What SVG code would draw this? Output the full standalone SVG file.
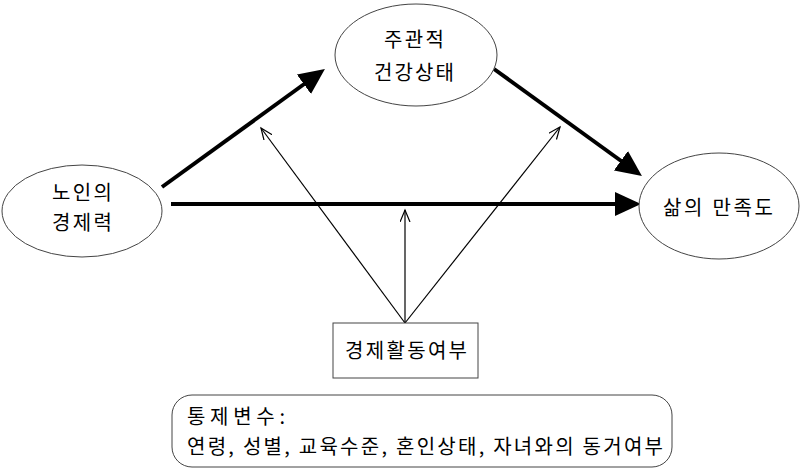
<svg xmlns="http://www.w3.org/2000/svg" width="800" height="471" viewBox="0 0 800 471">
<style>
.node{fill:#fff;stroke:#444;stroke-width:1}
.t{font-family:"Noto Sans CJK KR","Noto Sans",sans-serif;font-size:20px;fill:#000;text-anchor:middle}
.tl{font-family:"Noto Sans CJK KR","Noto Sans",sans-serif;font-size:20px;fill:#000}
.thick{stroke:#000;stroke-width:4;fill:none}
.thin{stroke:#000;stroke-width:1.2;fill:none}
</style>
<defs>
<marker id="big" markerUnits="userSpaceOnUse" markerWidth="26" markerHeight="24" refX="20" refY="12" orient="auto">
<path d="M0,0 L26,12 L0,24 z" fill="#000"/>
</marker>
<marker id="small" markerUnits="userSpaceOnUse" markerWidth="14" markerHeight="12" refX="12" refY="5" orient="auto">
<path d="M0,0 L12,5 L0,10" fill="none" stroke="#000" stroke-width="1.2"/>
</marker>
</defs>
<g id="connectors">
<line class="thick" x1="162" y1="187" x2="320.1" y2="72.5" marker-end="url(#big)"/>
<line class="thick" x1="171" y1="204" x2="635" y2="204" marker-end="url(#big)"/>
<line class="thick" x1="494" y1="69" x2="637.1" y2="172.5" marker-end="url(#big)"/>
<line class="thin" x1="405" y1="323" x2="261" y2="128" marker-end="url(#small)"/>
<line class="thin" x1="405" y1="323" x2="405" y2="210" marker-end="url(#small)"/>
<line class="thin" x1="405" y1="323" x2="560" y2="127" marker-end="url(#small)"/>
</g>
<g id="economic">
<ellipse class="node" cx="82" cy="211" rx="80" ry="46"/>
<text class="t" x="82" y="200" textLength="60">노인의</text>
<text class="t" x="82" y="230" textLength="60">경제력</text>
</g>
<g id="health">
<ellipse class="node" cx="416" cy="55" rx="81" ry="51"/>
<text class="t" x="414" y="47" textLength="60">주관적</text>
<text class="t" x="414" y="80" textLength="80">건강상태</text>
</g>
<g id="satisfaction">
<ellipse class="node" cx="719" cy="206" rx="80" ry="53"/>
<text class="t" x="718" y="215" textLength="110">삶의 만족도</text>
</g>
<g id="employment">
<rect class="node" x="333" y="323" width="145" height="55"/>
<text class="t" x="406" y="358" textLength="122">경제활동여부</text>
</g>
<g id="controls">
<rect class="node" x="172" y="395" width="500" height="72" rx="20" ry="20"/>
<text class="tl" x="187" y="424" textLength="98">통제변수:</text>
<text class="tl" x="187" y="454" textLength="476">연령, 성별, 교육수준, 혼인상태, 자녀와의 동거여부</text>
</g>
</svg>
